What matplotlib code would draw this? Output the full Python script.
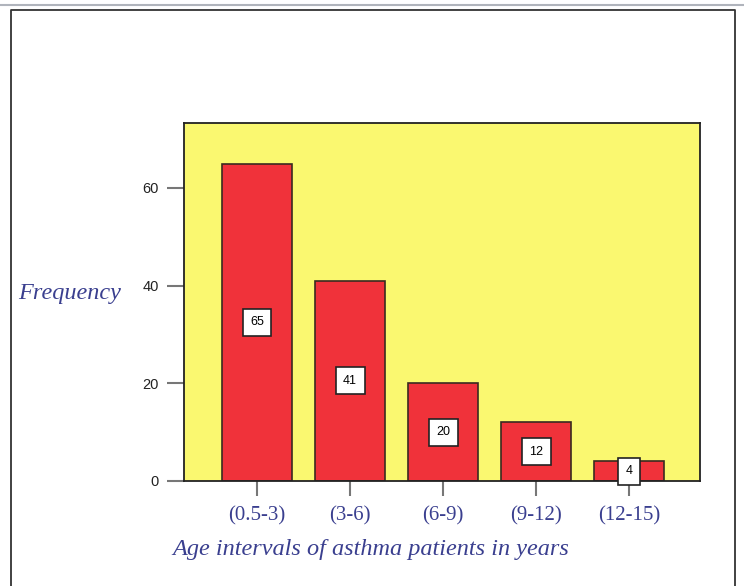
import matplotlib
matplotlib.use("Agg")
import matplotlib.pyplot as plt
from matplotlib.lines import Line2D

categories = ["(0.5-3)", "(3-6)", "(6-9)", "(9-12)", "(12-15)"]
frequencies = [65, 41, 20, 12, 4]
yticks = [0, 20, 40, 60]

W, H = 744, 586
fig = plt.figure(figsize=(W / 100, H / 100), dpi=100)
fig.patch.set_facecolor("white")

# page frame
fig.add_artist(Line2D([0, 1], [1 - 5 / H, 1 - 5 / H], transform=fig.transFigure,
                      color="#b0b4bc", lw=1.5))
fig.add_artist(Line2D([11 / W, 11 / W, 735 / W, 735 / W], [0, 1 - 10 / H, 1 - 10 / H, 0],
                      transform=fig.transFigure, color="#333333", lw=1.3))

ax = fig.add_axes([184 / W, 105 / H, 516 / W, 358 / H])
ax.set_facecolor("#FAF870")
x = list(range(len(categories)))
bars = ax.bar(x, frequencies, width=0.75, color="#F0323A", edgecolor="#3a2a20", linewidth=1.2, zorder=2)
for xi, v in zip(x, frequencies):
    ax.text(xi, v / 2, str(v), ha="center", va="center", fontsize=9, family="Liberation Sans",
            color="black", zorder=4,
            bbox=dict(boxstyle="square,pad=0.6", facecolor="white", edgecolor="#222222", linewidth=1.2))

ax.set_xlim(-0.785, 4.76)
ax.set_ylim(0, 73.3)
ax.set_yticks(yticks)
ax.set_yticklabels([str(t) for t in yticks], family="Liberation Sans", fontsize=10.5, color="#222222")
ax.set_xticks(x)
ax.set_xticklabels(categories, family="Liberation Serif", fontsize=15, color="#3a3f8f")
ax.tick_params(axis="y", length=12, width=1.5, color="#777777", pad=6)
ax.tick_params(axis="x", length=11, width=1.5, color="#777777", pad=7)
for s in ax.spines.values():
    s.set_color("#222222")
    s.set_linewidth(1.3)

fig.text(18 / W, 1 - 293 / H, "Frequency", family="Liberation Serif", style="italic",
         fontsize=17.5, color="#3a3f8f", ha="left", va="center")
fig.text(172 / W, 1 - 549 / H, "Age intervals of asthma patients in years", family="Liberation Serif",
         style="italic", fontsize=17.5, color="#3a3f8f", ha="left", va="center")

fig.savefig("out.png", dpi=100)
